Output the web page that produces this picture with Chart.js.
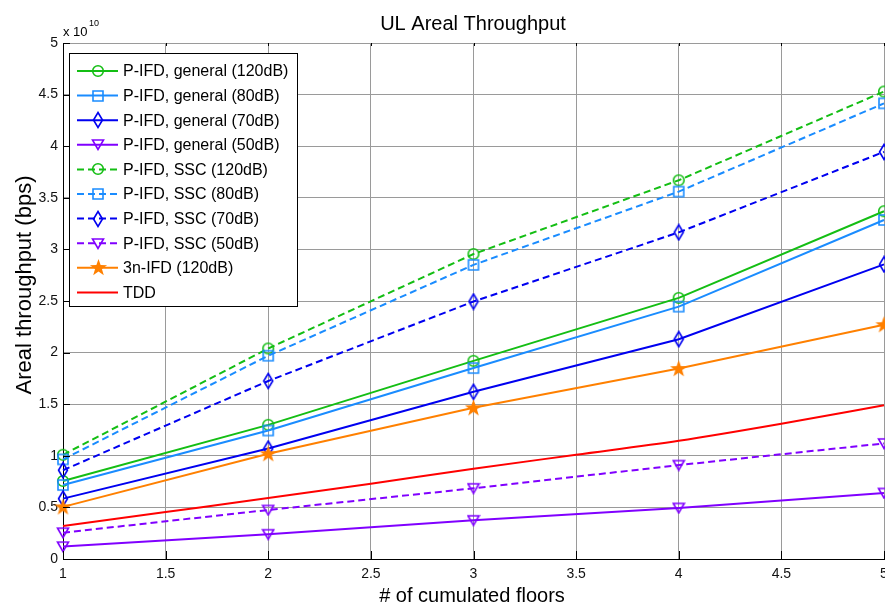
<!DOCTYPE html>
<html>
<head>
<meta charset="utf-8">
<title>UL Areal Throughput</title>
<script src="https://cdn.jsdelivr.net/npm/chart.js@4.4.1/dist/chart.umd.min.js"></script>
<style>
  html, body { margin: 0; padding: 0; background: #fff; }
  #chart { display: block; }
</style>
</head>
<body>
<canvas id="chart" width="885" height="606"></canvas>
<script>
// throughput values are in units of 1e10 bps (axis shows "x 10^10")
const floors = [1, 2, 3, 4, 5];
const general120 = [0.756, 1.30, 1.92, 2.53, 3.37];
const general80 = [0.717, 1.245, 1.85, 2.445, 3.285];
const general70 = [0.585, 1.07, 1.62, 2.13, 2.855];
const general50 = [0.12, 0.24, 0.375, 0.495, 0.64];
const ssc120 = [1.01, 2.04, 2.955, 3.67, 4.53];
const ssc80 = [0.965, 1.97, 2.85, 3.56, 4.415];
const ssc70 = [0.86, 1.725, 2.495, 3.165, 3.945];
const ssc50 = [0.255, 0.475, 0.685, 0.91, 1.12];
const threeN120 = [0.505, 1.02, 1.465, 1.845, 2.27];
const tddFloors = [1, 1.5, 2, 2.5, 3, 3.5, 4, 4.5, 5];
const tdd = [0.32, 0.455, 0.59, 0.73, 0.875, 1.01, 1.145, 1.31, 1.49];

const xTicks = [1, 1.5, 2, 2.5, 3, 3.5, 4, 4.5, 5];
const yTicks = [0, 0.5, 1, 1.5, 2, 2.5, 3, 3.5, 4, 4.5, 5];

const GREEN = "#14be14";
const LIGHTBLUE = "#1a8cff";
const BLUE = "#0000f0";
const PURPLE = "#8000ff";
const ORANGE = "#ff8000";
const RED = "#ff0000";
const FONT = "'Liberation Sans', Arial, sans-serif";

Chart.defaults.font.family = FONT;

// small canvases used as matlab-like markers
function marker(shape, color) {
  const sizes = {
    circle: [14, 14],
    square: [14, 14],
    diamond: [12, 18],
    triangle: [14, 13],
    star: [19, 19],
  };
  const c = document.createElement("canvas");
  c.width = sizes[shape][0];
  c.height = sizes[shape][1];
  const g = c.getContext("2d");
  g.strokeStyle = color;
  g.fillStyle = color;
  g.lineWidth = 1.6;
  g.beginPath();
  if (shape === "circle") {
    g.arc(7, 7, 5.3, 0, Math.PI * 2);
    g.stroke();
  } else if (shape === "square") {
    g.rect(2, 2, 10, 10);
    g.stroke();
  } else if (shape === "diamond") {
    g.moveTo(6, 1.5);
    g.lineTo(10.5, 9);
    g.lineTo(6, 16.5);
    g.lineTo(1.5, 9);
    g.closePath();
    g.stroke();
  } else if (shape === "triangle") {
    g.moveTo(1.5, 2);
    g.lineTo(12.5, 2);
    g.lineTo(7, 11.5);
    g.closePath();
    g.stroke();
  } else if (shape === "star") {
    for (let i = 0; i < 10; i++) {
      const r = i % 2 === 0 ? 9 : 3.6;
      const a = -Math.PI / 2 + (i * Math.PI) / 5;
      const px = 9.5 + r * Math.cos(a);
      const py = 10 + r * Math.sin(a);
      if (i === 0) g.moveTo(px, py);
      else g.lineTo(px, py);
    }
    g.closePath();
    g.fill();
  }
  return c;
}

function series(label, xs, ys, color, dashed, shape) {
  return {
    label: label,
    data: xs.map((x, i) => ({ x: x, y: ys[i] })),
    borderColor: color,
    backgroundColor: color,
    borderWidth: 2,
    borderDash: dashed ? [7, 4] : [],
    pointStyle: shape ? marker(shape, color) : false,
    pointRadius: shape ? 5 : 0,
    pointHoverRadius: shape ? 5 : 0,
    tension: 0,
    clip: false,
  };
}

const datasets = [
  series("P-IFD, general (120dB)", floors, general120, GREEN, false, "circle"),
  series("P-IFD, general (80dB)", floors, general80, LIGHTBLUE, false, "square"),
  series("P-IFD, general (70dB)", floors, general70, BLUE, false, "diamond"),
  series("P-IFD, general (50dB)", floors, general50, PURPLE, false, "triangle"),
  series("P-IFD, SSC (120dB)", floors, ssc120, GREEN, true, "circle"),
  series("P-IFD, SSC (80dB)", floors, ssc80, LIGHTBLUE, true, "square"),
  series("P-IFD, SSC (70dB)", floors, ssc70, BLUE, true, "diamond"),
  series("P-IFD, SSC (50dB)", floors, ssc50, PURPLE, true, "triangle"),
  series("3n-IFD (120dB)", floors, threeN120, ORANGE, false, "star"),
  series("TDD", tddFloors, tdd, RED, false, null),
];
datasets[9].cubicInterpolationMode = "monotone";
// later series on top, like matlab
datasets.forEach((ds, i) => (ds.order = datasets.length - i));

const matlabFrame = {
  id: "matlabFrame",
  afterDraw(chart) {
    const ctx = chart.ctx;
    const area = chart.chartArea;
    const xs = chart.scales.x;
    const ys = chart.scales.y;

    ctx.save();
    // inward tick marks
    ctx.strokeStyle = "#000";
    ctx.lineWidth = 1;
    ctx.beginPath();
    xTicks.forEach((v) => {
      const px = Math.round(xs.getPixelForValue(v)) + 0.5;
      ctx.moveTo(px, area.bottom);
      ctx.lineTo(px, area.bottom - 8);
      ctx.moveTo(px, area.top);
      ctx.lineTo(px, area.top + 3);
    });
    yTicks.forEach((v) => {
      const py = Math.round(ys.getPixelForValue(v)) + 0.5;
      ctx.moveTo(area.left, py);
      ctx.lineTo(area.left + 7, py);
    });
    ctx.stroke();

    // x tick labels (drawn here so the last one may run off the canvas)
    ctx.fillStyle = "#111";
    ctx.font = "14px " + FONT;
    ctx.textAlign = "center";
    ctx.textBaseline = "middle";
    xTicks.forEach((v) => {
      ctx.fillText(String(v), xs.getPixelForValue(v), 574);
    });

    // titles
    ctx.fillStyle = "#000";
    ctx.textAlign = "center";
    ctx.textBaseline = "alphabetic";
    ctx.font = "20px " + FONT;
    ctx.fillText("UL Areal Throughput", 473, 30);
    ctx.fillText("# of cumulated floors", 472, 602);

    ctx.save();
    ctx.translate(31, 285);
    ctx.rotate(-Math.PI / 2);
    ctx.font = "22px " + FONT;
    ctx.fillText("Areal throughput (bps)", 0, 0);
    ctx.restore();

    // exponent label
    ctx.textAlign = "left";
    ctx.font = "13px " + FONT;
    ctx.fillText("x 10", 63, 36);
    ctx.font = "9px " + FONT;
    ctx.fillText("10", 89, 26);

    // legend box inside the axes
    const box = { x: 69.5, y: 53.5, w: 228, h: 253 };
    ctx.fillStyle = "#fff";
    ctx.fillRect(box.x, box.y, box.w, box.h);
    ctx.strokeStyle = "#000";
    ctx.lineWidth = 1;
    ctx.strokeRect(box.x, box.y, box.w, box.h);

    ctx.font = "16px " + FONT;
    ctx.textBaseline = "middle";
    chart.data.datasets.forEach((ds, i) => {
      const ry = 71 + i * 24.6;
      ctx.save();
      ctx.strokeStyle = ds.borderColor;
      ctx.lineWidth = 2;
      ctx.setLineDash(ds.borderDash);
      ctx.beginPath();
      ctx.moveTo(77, ry);
      ctx.lineTo(118, ry);
      ctx.stroke();
      ctx.restore();
      if (ds.pointStyle) {
        const m = ds.pointStyle;
        ctx.drawImage(m, Math.round(98 - m.width / 2), Math.round(ry - m.height / 2));
      }
      ctx.fillStyle = "#000";
      ctx.fillText(ds.label, 123, ry + 1);
    });
    ctx.restore();
  },
};

new Chart(document.getElementById("chart"), {
  type: "line",
  data: { datasets: datasets },
  options: {
    responsive: false,
    animation: false,
    events: [],
    layout: { autoPadding: false, padding: { top: 43, right: 1, left: 0, bottom: 0 } },
    plugins: {
      legend: { display: false },
      title: { display: false },
      tooltip: { enabled: false },
    },
    scales: {
      x: {
        type: "linear",
        min: 1,
        max: 5,
        afterBuildTicks: (scale) => {
          scale.ticks = xTicks.map((v) => ({ value: v }));
        },
        afterFit: (scale) => {
          scale.height = 47;
          scale.paddingLeft = 0;
          scale.paddingRight = 0;
        },
        ticks: { display: false },
        grid: { color: "#9a9a9a", lineWidth: 1, drawTicks: false },
        border: { display: true, color: "#000", width: 1 },
      },
      y: {
        type: "linear",
        min: 0,
        max: 5,
        afterBuildTicks: (scale) => {
          scale.ticks = yTicks.map((v) => ({ value: v }));
        },
        afterFit: (scale) => {
          scale.width = 63;
          scale.paddingTop = 0;
          scale.paddingBottom = 0;
        },
        ticks: {
          autoSkip: false,
          padding: 5,
          color: "#111",
          font: { size: 14 },
          callback: (v) => String(v),
        },
        grid: { color: "#9a9a9a", lineWidth: 1, drawTicks: false },
        border: { display: true, color: "#000", width: 1 },
      },
    },
  },
  plugins: [matlabFrame],
});
</script>
</body>
</html>
